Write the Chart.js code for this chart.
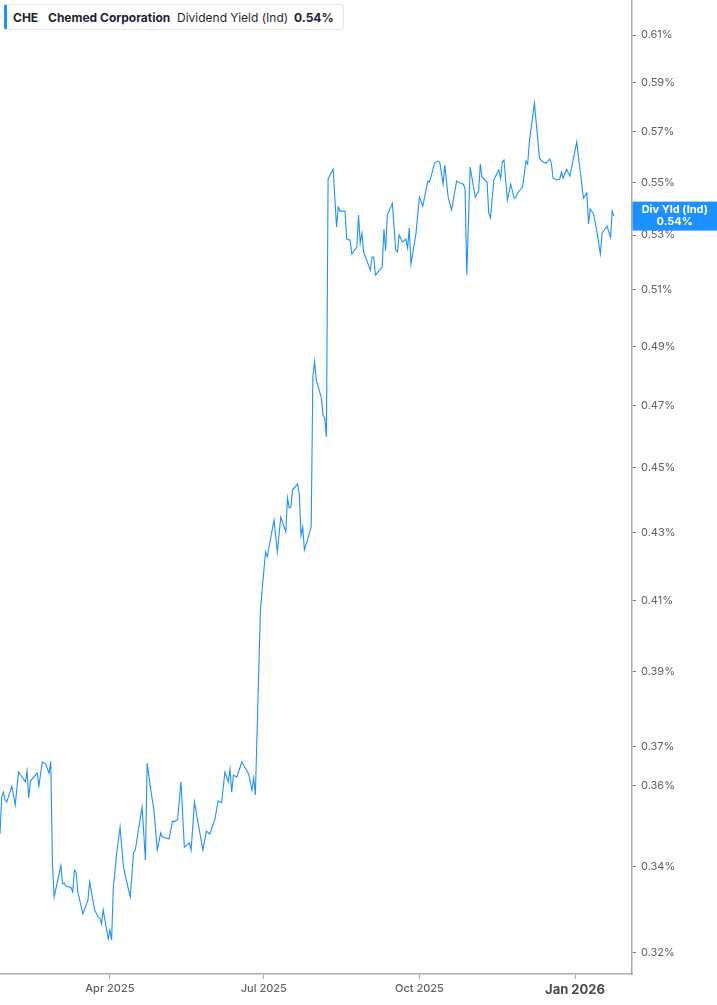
<!DOCTYPE html>
<html>
<head>
<meta charset="utf-8">
<script src="https://cdn.jsdelivr.net/npm/chart.js@4.4.1/dist/chart.umd.min.js"></script>
<style>
  html, body { margin: 0; padding: 0; background: #fff; }
  #wrap { position: relative; width: 717px; height: 1005px; }
  canvas { display: block; }
  #legend {
    position: absolute; left: 4px; top: 4px; width: 336px; height: 24px;
    border: 1px solid #e6e6e6; border-left: 3px solid #1e90ff; border-radius: 3px;
    background: #fff; font-family: Inter, "Noto Sans", sans-serif; font-size: 12px;
    color: #1d1f2e;
  }
  #legend span { position: absolute; top: 5px; white-space: nowrap; }
  .b { font-weight: 700; }
</style>
</head>
<body>
<div id="wrap">
  <canvas id="c" width="717" height="1005"></canvas>
  <div id="legend">
    <span class="b" style="left:6px">CHE</span>
    <span class="b" style="left:41px">Chemed Corporation</span>
    <span style="left:170px">Dividend Yield (Ind)</span>
    <span class="b" style="left:287px">0.54%</span>
  </div>
</div>
<script>
// Calendar day offsets from 2025-01-26
const dayOffsets = [0,1,2,3,4,7,9,11,15,16,17,18,22,23,25,27,29,30,31,32,36,37,38,39,42,43,44,45,46,49,52,53,56,58,59,60,61,64,65,66,67,69,71,73,77,79,80,84,86,87,89,91,93,95,96,100,102,103,105,107,109,112,113,115,117,120,122,124,127,129,131,133,135,136,137,138,140,143,147,149,150,151,154,155,157,158,162,164,166,169,170,171,172,173,176,177,178,179,180,183,184,185,186,187,190,191,192,193,194,197,199,200,201,204,205,207,208,211,212,213,214,215,219,220,221,222,226,227,228,229,232,234,235,236,238,240,241,242,243,246,248,250,253,254,257,259,260,262,263,265,267,270,272,274,275,276,278,281,283,284,285,288,289,290,292,294,295,296,297,298,300,302,304,305,306,309,311,312,313,316,319,321,323,325,326,327,329,331,332,333,335,337,341,345,347,348,349,351,353,355,356,359,361,362,363];
// Dividend yield (%)
const yieldPct = [0.3479,0.3571,0.3583,0.3563,0.3558,0.3598,0.3551,0.3634,0.3609,0.3637,0.3568,0.3611,0.3631,0.3598,0.3660,0.3655,0.3631,0.3662,0.3409,0.3328,0.3402,0.3359,0.3361,0.3354,0.3350,0.3340,0.3392,0.3387,0.3340,0.3289,0.3321,0.3364,0.3298,0.3282,0.3280,0.3266,0.3298,0.3232,0.3252,0.3229,0.3350,0.3433,0.3496,0.3399,0.3328,0.3435,0.3440,0.3546,0.3416,0.3657,0.3593,0.3538,0.3440,0.3482,0.3472,0.3467,0.3511,0.3509,0.3514,0.3609,0.3447,0.3457,0.3440,0.3558,0.3509,0.3440,0.3486,0.3479,0.3514,0.3561,0.3556,0.3634,0.3609,0.3642,0.3583,0.3626,0.3621,0.3660,0.3629,0.3588,0.3619,0.3576,0.4072,0.4130,0.4242,0.4227,0.4338,0.4242,0.4347,0.4302,0.4406,0.4375,0.4378,0.4431,0.4449,0.4415,0.4290,0.4317,0.4248,0.4299,0.4317,0.4797,0.4848,0.4787,0.4727,0.4670,0.4661,0.4599,0.5513,0.5551,0.5330,0.5405,0.5390,0.5390,0.5285,0.5281,0.5230,0.5255,0.5375,0.5270,0.5307,0.5237,0.5171,0.5219,0.5219,0.5153,0.5182,0.5322,0.5241,0.5375,0.5420,0.5244,0.5237,0.5300,0.5274,0.5285,0.5252,0.5326,0.5193,0.5307,0.5443,0.5409,0.5505,0.5501,0.5575,0.5583,0.5579,0.5493,0.5567,0.5443,0.5394,0.5505,0.5497,0.5493,0.5474,0.5153,0.5559,0.5443,0.5466,0.5571,0.5520,0.5501,0.5382,0.5364,0.5509,0.5536,0.5548,0.5513,0.5579,0.5587,0.5432,0.5493,0.5439,0.5443,0.5459,0.5482,0.5583,0.5571,0.5658,0.5815,0.5594,0.5579,0.5575,0.5591,0.5575,0.5516,0.5509,0.5513,0.5540,0.5516,0.5551,0.5524,0.5658,0.5439,0.5459,0.5341,0.5398,0.5379,0.5311,0.5230,0.5307,0.5333,0.5292,0.5390,0.5371];

const xTickDays = [65, 156, 248, 340];
const xTickLabels = ['Apr 2025', 'Jul 2025', 'Oct 2025', 'Jan 2026'];
const yTickValues = [0.32,0.34,0.36,0.37,0.39,0.41,0.43,0.45,0.47,0.49,0.51,0.53,0.55,0.57,0.59,0.61];
const seriesLabel = 'Div Yld (Ind)';
const lastValueText = '0.54%';

const BLUE = 'rgb(30,144,255)';
const points = dayOffsets.map((d, i) => ({ x: d, y: yieldPct[i] }));

const valueLabel = {
  id: 'valueLabel',
  afterDraw(chart) {
    const ctx = chart.ctx;
    const ys = chart.scales.y;
    const last = yieldPct[yieldPct.length - 1];
    const yc = ys.getPixelForValue(last);
    const left = chart.chartArea.right + 0.5;
    const w = chart.width - left;
    const h = 29;
    ctx.save();
    ctx.fillStyle = BLUE;
    ctx.fillRect(left, yc - h / 2, w, h);
    ctx.fillStyle = '#fff';
    ctx.font = '700 11px Inter, "Noto Sans", sans-serif';
    ctx.textAlign = 'center';
    ctx.textBaseline = 'middle';
    const cx = left + w / 2;
    ctx.fillText(seriesLabel, cx, yc - 6);
    ctx.fillText(lastValueText, cx, yc + 6);
    ctx.restore();
  }
};

new Chart(document.getElementById('c'), {
  type: 'line',
  data: {
    datasets: [{
      data: points,
      borderColor: BLUE,
      borderWidth: 1.1,
      pointRadius: 0,
      tension: 0,
      fill: false
    }]
  },
  options: {
    responsive: false,
    animation: false,
    events: [],
    layout: { padding: 0 },
    plugins: { legend: { display: false }, tooltip: { enabled: false } },
    scales: {
      x: {
        type: 'linear',
        min: 0,
        max: 373.7,
        afterFit(s) { s.height = 31; s.paddingLeft = 0; s.paddingRight = 0; },
        afterBuildTicks(s) { s.ticks = xTickDays.map(v => ({ value: v })); },
        border: { display: true, color: '#b0b0b0', width: 1.5 },
        grid: { drawOnChartArea: false, drawTicks: true, tickLength: 5, color: '#a8a8a8' },
        ticks: {
          autoSkip: false,
          maxRotation: 0,
          padding: 3,
          color(ctx) { return ctx.tick && ctx.tick.value === 340 ? '#4a4a4a' : '#5f5f5f'; },
          font(ctx) {
            const big = ctx.tick && ctx.tick.value === 340;
            return { family: 'Inter, "Noto Sans", sans-serif', size: big ? 13 : 11, weight: big ? '700' : '500' };
          },
          callback(v) { const i = xTickDays.indexOf(v); return i >= 0 ? xTickLabels[i] : null; }
        }
      },
      y: {
        type: 'logarithmic',
        position: 'right',
        min: 0.3153,
        max: 0.6252,
        afterFit(s) { s.width = 85; s.paddingTop = 0; s.paddingBottom = 0; },
        afterBuildTicks(s) { s.ticks = yTickValues.map(v => ({ value: v })); },
        border: { display: true, color: '#a8a8a8', width: 1.5 },
        grid: { drawOnChartArea: false, drawTicks: true, tickLength: 4, color: '#777' },
        ticks: {
          autoSkip: false,
          padding: 5,
          color: '#5f5f5f',
          font: { family: 'Inter, "Noto Sans", sans-serif', size: 11, weight: '400' },
          callback(v) { return Number(v).toFixed(2) + '%'; }
        }
      }
    }
  },
  plugins: [valueLabel]
});
</script>
</body>
</html>
